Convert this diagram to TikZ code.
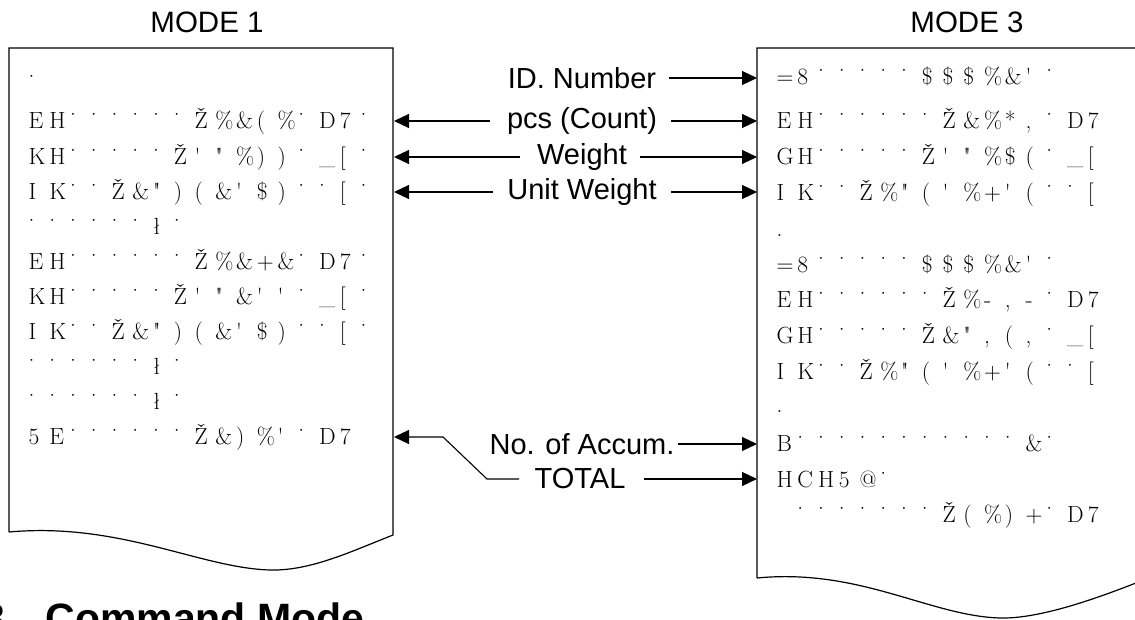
\documentclass[tikz,border=0pt]{standalone}
\usepackage{fontspec}
\newfontfamily\labfont{Liberation Sans}
\usetikzlibrary{arrows.meta}
\newlength\cellw
\setlength\cellw{20.75pt}
\makeatletter
\def\gridtxt#1{\gridt@loop#1\gridt@end}
\def\gridt@end{gridt-end-marker}
\def\gridt@loop#1{\ifx#1\gridt@end\else\makebox[\cellw][l]{#1}\expandafter\gridt@loop\fi}
\makeatother
\newcommand\sq{\textquotesingle}
\newcommand\dq{\textquotedbl}
\begin{document}
\begin{tikzpicture}[x=1pt,y=-1pt,line width=1.2pt,
  boxtxt/.style={anchor=base west,inner sep=0pt,font=\fontsize{23.4}{28}\selectfont},
  lab/.style={inner sep=0pt,font=\labfont\fontsize{29}{34}\selectfont},
  modelab/.style={inner sep=0pt,font=\labfont\fontsize{29.5}{34}\selectfont},
  arr/.style={-{Triangle[length=15pt,width=14pt]},line width=1.1pt},
  paper/.style={draw=black,line width=1.2pt}]
\useasboundingbox (0,0) rectangle (1135,620);

% paper outlines
\draw[paper] (9,532) -- (9,48) -- (393,48) -- (393,535)
  .. controls (350,552) and (310,571) .. (270,570)
  .. controls (200,568) and (120,522) .. (9,532);
\draw[paper] (757,578) -- (757,48) -- (1141,48) -- (1141,581)
  .. controls (1098,598) and (1040,619) .. (1000,618)
  .. controls (930,616) and (860,568) .. (757,578);

% titles
\node[modelab] (m1) at (207,22) {MODE 1};
\node[modelab] (m3) at (967,22) {MODE 3};

% left paper lines
\node[boxtxt] (L0) at (28,91) {\gridtxt{˙}};
\node[boxtxt] (L1) at (28,129.0) {\gridtxt{EH˙˙˙˙˙˙Ž\%\&(\%˙D7˙}};
\node[boxtxt] (L2) at (28,164.1) {\gridtxt{KH˙˙˙˙˙Ž\sq\dq\%))˙\_[˙}};
\node[boxtxt] (L3) at (28,199.2) {\gridtxt{IK˙˙Ž\&\dq)(\&\sq\$)˙˙[˙}};
\node[boxtxt] (L4) at (28,234.3) {\gridtxt{˙˙˙˙˙˙ł˙}};
\node[boxtxt] (L5) at (28,269.4) {\gridtxt{EH˙˙˙˙˙˙Ž\%\&+\&˙D7˙}};
\node[boxtxt] (L6) at (28,304.5) {\gridtxt{KH˙˙˙˙˙Ž\sq\dq\&\sq\sq˙\_[˙}};
\node[boxtxt] (L7) at (28,339.6) {\gridtxt{IK˙˙Ž\&\dq)(\&\sq\$)˙˙[˙}};
\node[boxtxt] (L8) at (28,374.7) {\gridtxt{˙˙˙˙˙˙ł˙}};
\node[boxtxt] (L9) at (28,409.8) {\gridtxt{˙˙˙˙˙˙ł˙}};
\node[boxtxt] (L10) at (28,444.9) {\gridtxt{5E˙˙˙˙˙˙Ž\&)\%\sq˙D7}};

% right paper lines
\node[boxtxt] (R0) at (776,85) {\gridtxt{=8˙˙˙˙˙\$\$\$\%\&\sq˙}};
\node[boxtxt] (R1) at (776,129.0) {\gridtxt{EH˙˙˙˙˙˙Ž\&\%*,˙D7}};
\node[boxtxt] (R2) at (776,164.8) {\gridtxt{GH˙˙˙˙˙Ž\sq\dq\%\$(˙\_[}};
\node[boxtxt] (R3) at (776,200.6) {\gridtxt{IK˙˙Ž\%\dq(\sq\%+\sq(˙˙[}};
\node[boxtxt] (R4) at (776,236.4) {\gridtxt{.}};
\node[boxtxt] (R5) at (776,272.2) {\gridtxt{=8˙˙˙˙˙\$\$\$\%\&\sq˙}};
\node[boxtxt] (R6) at (776,308.0) {\gridtxt{EH˙˙˙˙˙˙Ž\%-,-˙D7}};
\node[boxtxt] (R7) at (776,343.8) {\gridtxt{GH˙˙˙˙˙Ž\&\dq,(,˙\_[}};
\node[boxtxt] (R8) at (776,379.6) {\gridtxt{IK˙˙Ž\%\dq(\sq\%+\sq(˙˙[}};
\node[boxtxt] (R9) at (776,412.4) {\gridtxt{.}};
\node[boxtxt] (R10) at (776,451.2) {\gridtxt{B˙˙˙˙˙˙˙˙˙˙˙\&˙}};
\node[boxtxt] (R11) at (776,487.0) {\gridtxt{HCH5@˙}};
\node[boxtxt] (R12) at (776,522.8) {\gridtxt{~˙˙˙˙˙˙˙Ž(\%)+˙D7}};

% labels
\node[lab] (idn) at (582,78) {ID. Number};
\node[lab] (pcs) at (582,121) {pcs (Count)};
\node[lab] (wt) at (582,157) {Weight};
\node[lab] (uw) at (582,192) {Unit Weight};
\node[lab] (acc) at (582,444) {No. of Accum.};
\node[lab] (tot) at (580,479) {TOTAL};

% arrow end points at the paper edges
\coordinate (r0) at (757,78);
\coordinate (r1) at (757,121);
\coordinate (r2) at (757,157);
\coordinate (r3) at (757,192);
\coordinate (r10) at (757,444);
\coordinate (r11) at (757,479);
\coordinate (l1) at (394,121);
\coordinate (l2) at (394,157);
\coordinate (l3) at (394,192);
\coordinate (l10) at (394,437);
\coordinate (k1) at (487,479);
\coordinate (k2) at (443,437);

\draw[arr] ([xshift=12pt]idn.east) -- (r0);
\draw[arr] ([xshift=13pt]pcs.east) -- (r1);
\draw[arr] ([xshift=-16pt]pcs.west) -- (l1);
\draw[arr] ([xshift=13pt]wt.east) -- (r2);
\draw[arr] ([xshift=-17pt]wt.west) -- (l2);
\draw[arr] ([xshift=14pt]uw.east) -- (r3);
\draw[arr] ([xshift=-14pt]uw.west) -- (l3);
\draw[arr] ([xshift=3pt]acc.east) -- (r10);
\draw[arr] ([xshift=18pt]tot.east) -- (r11);
\draw[arr] ([xshift=-15pt]tot.west) -- (k1) -- (k2) -- (l10);

% section heading, cut by the page edge
\node[inner sep=0pt,anchor=base east,font=\labfont\bfseries\fontsize{41}{48}\selectfont] (secn) at (6,632) {6.3};
\node[inner sep=0pt,anchor=base west,font=\labfont\bfseries\fontsize{41}{48}\selectfont] (sect) at (45,632) {Command Mode};
\end{tikzpicture}
\end{document}
